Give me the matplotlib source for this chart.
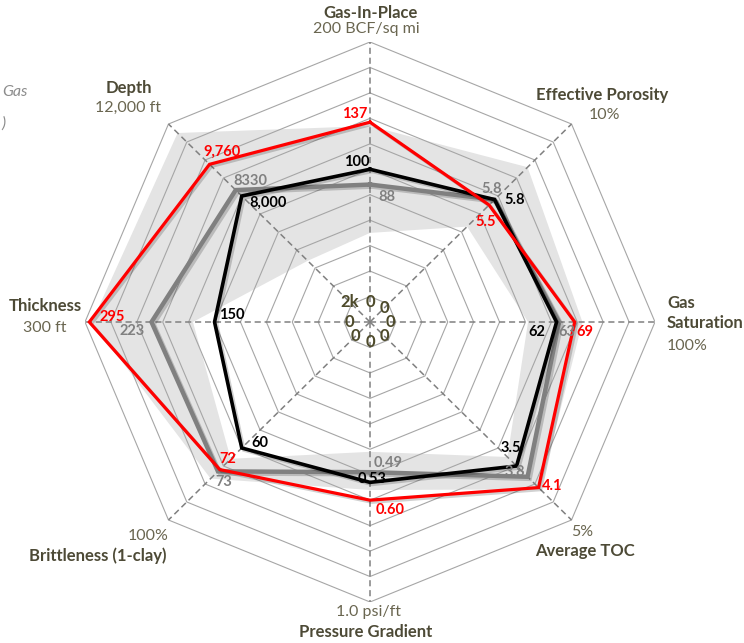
import numpy as np
import matplotlib

matplotlib.use("Agg")
import matplotlib.pyplot as plt
from matplotlib import patheffects

plt.rcParams["font.family"] = ["Lato", "DejaVu Sans"]

# axes, clockwise from the top
categories = ["Gas-In-Place", "Effective Porosity", "Gas\nSaturation", "Average TOC",
              "Pressure Gradient", "Brittleness (1-clay)", "Thickness", "Depth"]
scale_labels = ["200 BCF/sq mi", "10%", "100%", "5%", "1.0 psi/ft", "100%", "300 ft", "12,000 ft"]
axis_min = [0, 0, 0, 0, 0, 0, 0, 2000]
axis_max = [200, 10, 100, 5, 1.0, 100, 300, 12000]
min_labels = ["0", "0", "0", "0", "0", "0", "0", "2k"]

red_values = [137, 5.5, 69, 4.1, 0.60, 72, 295, 9760]
red_labels = ["137", "5.5", "69", "4.1", "0.60", "72", "295", "9,760"]
black_values = [100, 5.8, 62, 3.5, 0.53, 60, 150, 8000]
black_labels = ["100", "5.8", "62", "3.5", "0.53", "60", "150", "8,000"]
gray_values = [88, 5.8, 63, 3.8, 0.49, 73, 223, 8330]
gray_labels = ["88", "5.8", "63", "3.8", "0.49", "73", "223", "8330"]

# shaded range band
range_high = [134, 7.6, 72, 4.15, 0.56, 77, 292, 11500]
range_low = [50, 4.3, 51, 3.25, 0.41, 66, 175, 4400]

n_axes = len(categories)
angles = np.arange(n_axes) * 2 * np.pi / n_axes
vmin = np.array(axis_min, dtype=float)
vmax = np.array(axis_max, dtype=float)

TEXT_DARK = "#4d4a36"
TEXT_UNIT = "#6a6650"


def to_xy(values, closed=True):
    norm = (np.asarray(values, dtype=float) - vmin) / (vmax - vmin)
    pos = (norm + 0.1) / 1.1  # scale starts one ring out from the centre
    x, y = pos * np.sin(angles), pos * np.cos(angles)
    if closed:
        x, y = np.append(x, x[0]), np.append(y, y[0])
    return x, y


fig = plt.figure(figsize=(7.44, 6.43), dpi=100)
ax = fig.add_axes([85 / 744, 41 / 643, 570 / 744, 560 / 643])
ax.set_xlim(-1, 1)
ax.set_ylim(-1, 1)
ax.axis("off")

# band: outer filled gray, inner filled white
hx, hy = to_xy(range_high)
lx, ly = to_xy(range_low)
ax.fill(hx, hy, color="#e4e4e4", lw=0, zorder=1)
ax.fill(lx, ly, color="white", lw=0, zorder=1.1)

# grid rings and dashed spokes
for k in range(11):
    ring = vmin + (vmax - vmin) * k / 10
    gx, gy = to_xy(ring)
    ax.plot(gx, gy, color="#a6a6a6", lw=0.8, zorder=2)
ox, oy = to_xy(vmax, closed=False)
cx, cy = to_xy(vmin - (vmax - vmin) * 0.1, closed=False)
for i in range(n_axes):
    ax.plot([cx[i], ox[i]], [cy[i], oy[i]], color="#808080", lw=1.1,
            ls=(0, (4, 2.5)), zorder=2.5)

shadow = [patheffects.SimpleLineShadow(offset=(1.5, -1.5), shadow_color="#000000", alpha=0.18),
          patheffects.Normal()]
series = [
    (gray_values, gray_labels, "#808080", 3.2,
     [(17, 12), (-3, -11), (8, 10), (-13, -5), (18, -9), (6, 11), (-19, 9), (15, -9)]),
    (black_values, black_labels, "#000000", 2.6,
     [(-13, -7), (20, 0), (-20, 10), (-6, -18), (2, -3), (18, -5), (17, -7), (26, 7)]),
    (red_values, red_labels, "#ff0000", 2.3,
     [(-15, -8), (-3, 17), (10, 10), (14, -2), (20, 10), (8, -11), (23, -5), (12, -13)]),
]
for z, (vals, labels, color, lw, offsets) in enumerate(series):
    sx, sy = to_xy(vals)
    ax.plot(sx, sy, color=color, lw=lw, solid_joinstyle="miter", zorder=3 + z,
            path_effects=shadow)
    for i in range(n_axes):
        ax.annotate(labels[i], (sx[i], sy[i]), xytext=(offsets[i][0], -offsets[i][1]),
                    textcoords="offset pixels", ha="center", va="center",
                    fontsize=10.5, fontweight="bold", color=color, zorder=7)

# minimum labels near the centre ("2k" sits a little further out)
zero_shift = np.array([-0.02] * 7 + [0.01])
zx, zy = to_xy(vmin + (vmax - vmin) * zero_shift, closed=False)
for i in range(n_axes):
    ax.text(zx[i], zy[i], min_labels[i], ha="center", va="center", fontsize=12,
            fontweight="bold", color="#4d4a2a", zorder=7)

# axis titles and scale maxima, offsets in pixels from the outer vertex
name_offsets = [(1, -29), (31, -29), (12, -9), (13, 31), (-4, 30), (-71, 36), (-40, -16), (-40, -36)]
unit_offsets = [(-4, -13), (33, -9), (12, 24), (11, 12), (-2, 10), (-20, 16), (-40, 6), (-40, -16)]
for i in range(n_axes):
    ha = "left" if i == 2 else "center"
    ax.annotate(categories[i], (ox[i], oy[i]), xytext=(name_offsets[i][0], -name_offsets[i][1]),
                textcoords="offset pixels", ha=ha, va="center", fontsize=12,
                fontweight="bold", color=TEXT_DARK, linespacing=1.3, annotation_clip=False)
    ax.annotate(scale_labels[i], (ox[i], oy[i]), xytext=(unit_offsets[i][0], -unit_offsets[i][1]),
                textcoords="offset pixels", ha=ha, va="center", fontsize=11.5,
                color=TEXT_UNIT, annotation_clip=False)

# legend remnants at the left edge
fig.text(28 / 744, 1 - 92 / 643, "Gas", ha="right", va="center", fontsize=11.5,
         style="italic", color="#8c8c8c")
fig.text(1 / 744, 1 - 124 / 643, ")", ha="left", va="center", fontsize=11.5,
         style="italic", color="#8c8c8c")

fig.savefig("out.png", dpi=100, facecolor="white")
